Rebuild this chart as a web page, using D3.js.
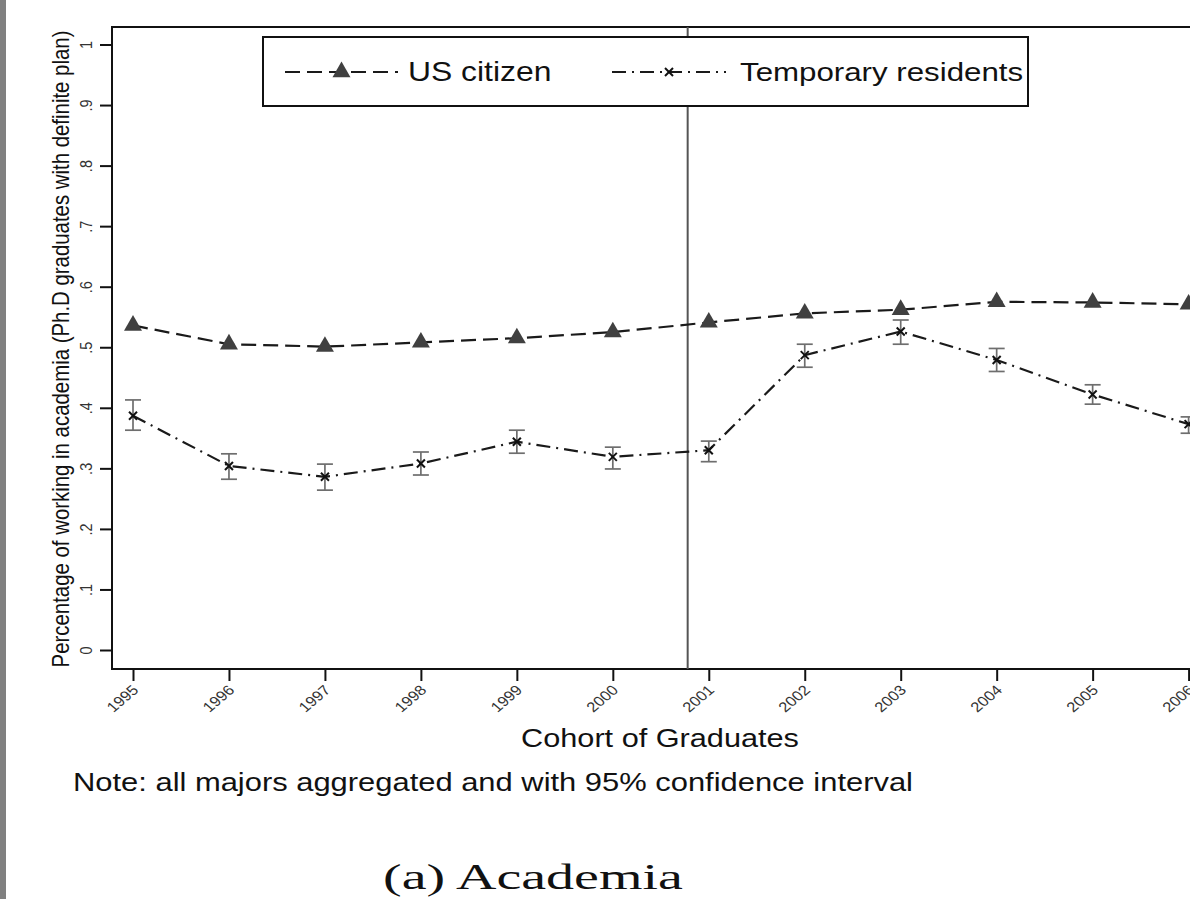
<!DOCTYPE html>
<html><head><meta charset="utf-8">
<script src="https://cdn.jsdelivr.net/npm/d3@7"></script>
<style>html,body{margin:0;padding:0;background:#fff;overflow:hidden}</style>
</head><body>
<svg id="chart" width="1190" height="899"></svg>
<script>
// ---------- data ----------
const years = [1995, 1996, 1997, 1998, 1999, 2000, 2001, 2002, 2003, 2004, 2005, 2006];
const usCitizen = [0.536, 0.505, 0.501, 0.508, 0.515, 0.525, 0.541, 0.556, 0.562, 0.575, 0.574, 0.571];
const tempResidents = [0.387, 0.304, 0.286, 0.308, 0.344, 0.319, 0.330, 0.487, 0.526, 0.479, 0.422, 0.373];
const tempLower = [0.363, 0.282, 0.264, 0.289, 0.325, 0.299, 0.311, 0.467, 0.505, 0.460, 0.406, 0.358];
const tempUpper = [0.413, 0.324, 0.307, 0.327, 0.363, 0.335, 0.345, 0.505, 0.545, 0.498, 0.438, 0.385];
const yTicks = [0, 0.1, 0.2, 0.3, 0.4, 0.5, 0.6, 0.7, 0.8, 0.9, 1];
const yTickLabels = ["0", ".1", ".2", ".3", ".4", ".5", ".6", ".7", ".8", ".9", "1"];
const xTickLabels = ["1995", "1996", "1997", "1998", "1999", "2000", "2001", "2002", "2003", "2004", "2005", "2006"];
const seriesNames = ["US citizen", "Temporary residents"];
const cutoffYear = [2000.78];
const yTitle = "Percentage of working in academia (Ph.D graduates with definite plan)";
const xTitle = "Cohort of Graduates";
const noteText = "Note: all majors aggregated and with 95% confidence interval";
const captionText = "(a) Academia";

// ---------- layout ----------
const SX = 1.18; // horizontal stretch of the reference image
const SANS = "'Liberation Sans', Arial, Helvetica, sans-serif";
const frame = {left: 112, top: 27, bottom: 669, right: 1216};
const svg = d3.select("#chart");

const x = d3.scaleLinear().domain([1995, 2006]).range([133, 1188.6]);
const y = d3.scaleLinear().domain([0, 1]).range([650, 44.5]);

// left gray page edge
svg.append("rect").attr("x", 0).attr("y", 0).attr("width", 6).attr("height", 899).attr("fill", "#808080");

// plot frame
svg.append("rect")
  .attr("x", frame.left).attr("y", frame.top)
  .attr("width", frame.right - frame.left).attr("height", frame.bottom - frame.top)
  .attr("fill", "none").attr("stroke", "#111").attr("stroke-width", 2);

// y axis
const yAxis = svg.append("g").attr("transform", `translate(${frame.left},0)`)
  .call(d3.axisLeft(y).tickValues(yTicks).tickSize(12).tickFormat((d, i) => yTickLabels[i]));
yAxis.select(".domain").remove();
yAxis.selectAll(".tick line").attr("stroke", "#111").attr("stroke-width", 2);
yAxis.selectAll(".tick text")
  .attr("x", null).attr("dy", null)
  .attr("transform", `translate(-20,0) scale(${SX},1) rotate(-90)`)
  .attr("text-anchor", "middle")
  .attr("font-family", SANS).attr("font-size", 14.5).attr("fill", "#333");

// x axis
const xAxis = svg.append("g").attr("transform", `translate(0,${frame.bottom})`)
  .call(d3.axisBottom(x).tickValues(years).tickSize(12).tickFormat((d, i) => xTickLabels[i]));
xAxis.select(".domain").remove();
xAxis.selectAll(".tick line").attr("stroke", "#111").attr("stroke-width", 2);
xAxis.selectAll(".tick text")
  .attr("y", null).attr("dy", null)
  .attr("transform", `translate(6,22) scale(${SX},1) rotate(-45)`)
  .attr("text-anchor", "end")
  .attr("font-family", SANS).attr("font-size", 14).attr("fill", "#333");

// axis titles
svg.append("text").text(yTitle)
  .attr("transform", `translate(69,349) scale(${SX},1) rotate(-90)`)
  .attr("text-anchor", "middle").attr("font-family", SANS).attr("font-size", 20.4).attr("fill", "#111");
svg.append("text").text(xTitle)
  .attr("transform", `translate(660,747) scale(${SX},1)`)
  .attr("text-anchor", "middle").attr("font-family", SANS).attr("font-size", 26).attr("fill", "#111");
svg.append("text").text(noteText)
  .attr("transform", `translate(73,791) scale(${SX},1)`)
  .attr("font-family", SANS).attr("font-size", 26.2).attr("fill", "#111");

// caption
const cap = svg.append("text").text(captionText)
  .attr("font-family", "'Liberation Serif', 'Times New Roman', serif").attr("font-size", 36).attr("fill", "#111");
const capW = cap.node().getComputedTextLength();
cap.attr("transform", `translate(383,889) scale(${300 / capW},1)`);

// cutoff vertical line
svg.selectAll(".cutoff").data(cutoffYear).enter().append("line")
  .attr("x1", d => x(d)).attr("x2", d => x(d))
  .attr("y1", frame.top).attr("y2", frame.bottom)
  .attr("stroke", "#555").attr("stroke-width", 2);

const usData = years.map((yr, i) => ({year: yr, v: usCitizen[i]}));
const tmpData = years.map((yr, i) => ({year: yr, v: tempResidents[i], lo: tempLower[i], hi: tempUpper[i]}));

// error bars
const eb = svg.append("g").attr("stroke", "#6e6e6e").attr("stroke-width", 1.7).attr("fill", "none");
tmpData.forEach(d => {
  const cx = x(d.year);
  eb.append("line").attr("x1", cx).attr("x2", cx).attr("y1", y(d.lo)).attr("y2", y(d.hi));
  eb.append("line").attr("x1", cx - 8).attr("x2", cx + 8).attr("y1", y(d.lo)).attr("y2", y(d.lo));
  eb.append("line").attr("x1", cx - 8).attr("x2", cx + 8).attr("y1", y(d.hi)).attr("y2", y(d.hi));
});

const line = d3.line().x(d => x(d.year)).y(d => y(d.v));
const US_DASH = "15,7";
const TMP_DASH = "14,6,2,6";

svg.append("path").datum(tmpData).attr("d", line)
  .attr("fill", "none").attr("stroke", "#1a1a1a").attr("stroke-width", 2.2).attr("stroke-dasharray", TMP_DASH);
svg.append("path").datum(usData).attr("d", line)
  .attr("fill", "none").attr("stroke", "#1a1a1a").attr("stroke-width", 2.2).attr("stroke-dasharray", US_DASH);

// markers
const tri = d3.symbol().type(d3.symbolTriangle).size(140);
svg.selectAll(".tri").data(usData).enter().append("path")
  .attr("d", tri).attr("transform", d => `translate(${x(d.year)},${y(d.v)})`)
  .attr("fill", "#404040");
const xm = svg.append("g").attr("stroke", "#111").attr("stroke-width", 2);
tmpData.forEach(d => {
  const cx = x(d.year), cy = y(d.v);
  xm.append("line").attr("x1", cx - 4).attr("x2", cx + 4).attr("y1", cy - 4).attr("y2", cy + 4);
  xm.append("line").attr("x1", cx - 4).attr("x2", cx + 4).attr("y1", cy + 4).attr("y2", cy - 4);
});

// legend
const lg = svg.append("g");
lg.append("rect").attr("x", 263).attr("y", 37).attr("width", 765).attr("height", 69)
  .attr("fill", "#fff").attr("stroke", "#111").attr("stroke-width", 2);
lg.append("line").attr("x1", 285).attr("x2", 398).attr("y1", 72).attr("y2", 72)
  .attr("stroke", "#1a1a1a").attr("stroke-width", 2.2).attr("stroke-dasharray", US_DASH);
lg.append("path").attr("d", tri).attr("transform", "translate(341.5,72)").attr("fill", "#404040");
lg.append("text").text(seriesNames[0]).attr("transform", `translate(408,81) scale(${SX},1)`)
  .attr("font-family", SANS).attr("font-size", 27).attr("fill", "#111");
lg.append("line").attr("x1", 612).attr("x2", 726).attr("y1", 72).attr("y2", 72)
  .attr("stroke", "#1a1a1a").attr("stroke-width", 2.2).attr("stroke-dasharray", TMP_DASH);
lg.append("line").attr("x1", 665).attr("x2", 673).attr("y1", 68).attr("y2", 76).attr("stroke", "#111").attr("stroke-width", 2);
lg.append("line").attr("x1", 665).attr("x2", 673).attr("y1", 76).attr("y2", 68).attr("stroke", "#111").attr("stroke-width", 2);
lg.append("text").text(seriesNames[1]).attr("transform", `translate(740,81) scale(${SX},1)`)
  .attr("font-family", SANS).attr("font-size", 26.5).attr("fill", "#111");
</script>
</body></html>
